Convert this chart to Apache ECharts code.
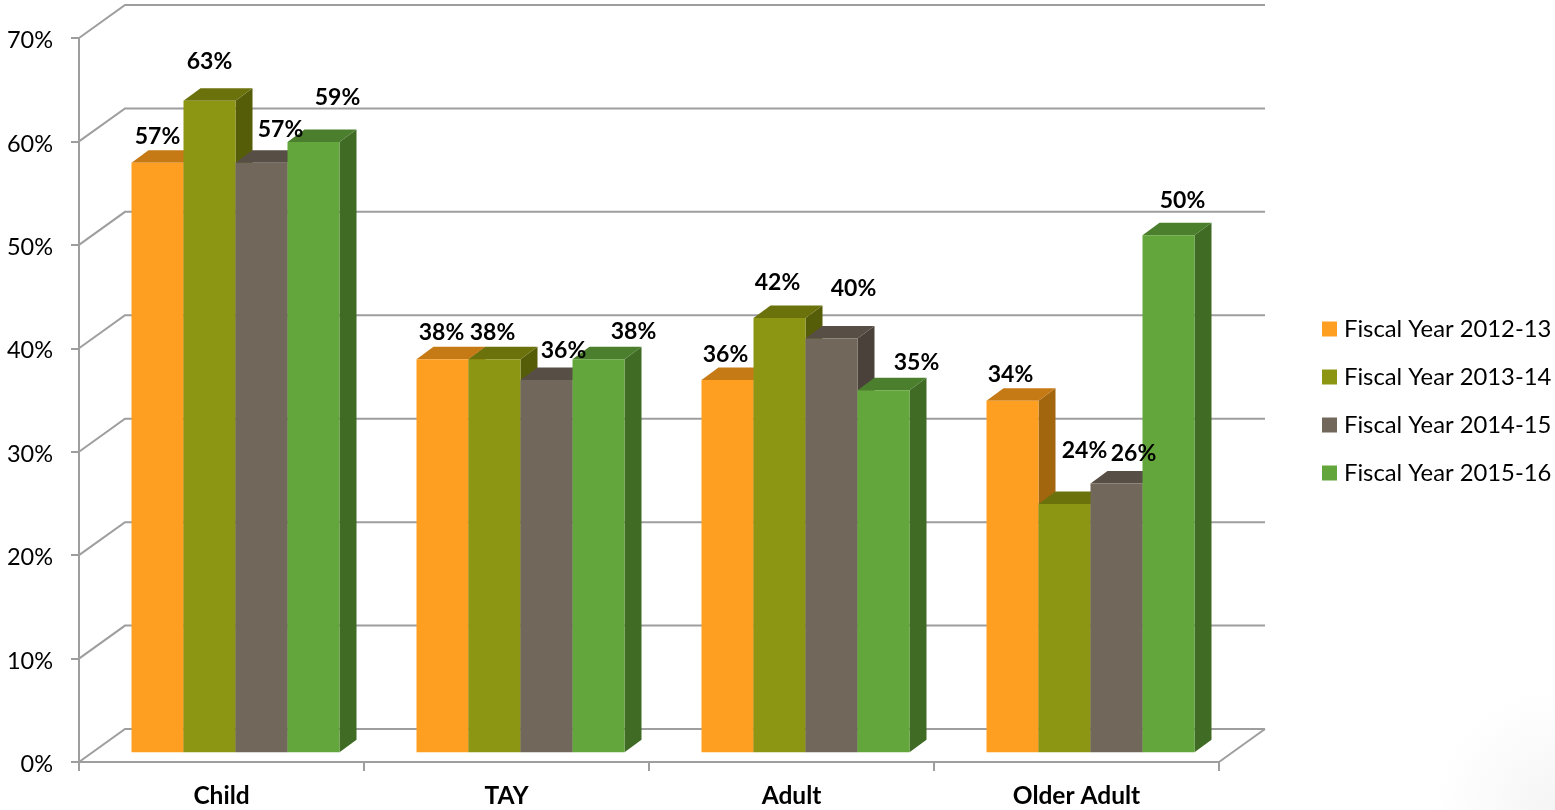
<!DOCTYPE html>
<html>
<head>
<meta charset="utf-8">
<style>html,body{margin:0;padding:0;background:#fff}#c{width:1555px;height:810px}</style>
<script src="https://cdn.jsdelivr.net/npm/echarts@6/dist/echarts.min.js"></script>
</head>
<body>
<div id="c"></div>
<script>
const categories = ['Child', 'TAY', 'Adult', 'Older Adult'];
const fy1213 = [57, 38, 36, 34];
const fy1314 = [63, 38, 42, 24];
const fy1415 = [57, 36, 40, 26];
const fy1516 = [59, 38, 35, 50];
const seriesNames = ['Fiscal Year 2012-13', 'Fiscal Year 2013-14', 'Fiscal Year 2014-15', 'Fiscal Year 2015-16'];
const valueTicks = [0, 10, 20, 30, 40, 50, 60, 70];

const allValues = [fy1213, fy1314, fy1415, fy1516];
const faces = [
  { front: '#FF9F21', top: '#C67A16', side: '#A2660F' },
  { front: '#8C9612', top: '#6B720C', side: '#565D08' },
  { front: '#72675B', top: '#574E45', side: '#4A423A' },
  { front: '#63A63B', top: '#4B7F2D', side: '#3F6B25' }
];
// hand-placed label nudges relative to the bar's top-centre, per series and category
const labelNudge = [
  [[0, -26.5], [-1, -26.5], [-2, -25.5], [-2, -26.5]],
  [[0, -39.5], [-2, -26.5], [-2, -35.5], [20, -53.5]],
  [[19, -33.5], [17, -29.5], [22, -50.5], [17, -29.5]],
  [[24, -44.5], [35, -27.5], [33, -27.5], [14, -34.5]]
];
const FONT = 'Lato';
const WALL = { dx: 46, dy: -33 };
const BAR = { w: 52, dx: 17, dy: -12.5, ox: 14, oy: -9.7 };
const LINE = '#9E9E9E';

function wallItem(params, api) {
  const v = api.value(0);
  const n = categories.length;
  const half = api.size([1, 0])[0] / 2;
  const a = api.coord([0, v]);
  const b = api.coord([n - 1, v]);
  const xl = a[0] - half, xr = b[0] + half, y = a[1];
  const children = [{
    type: 'polyline',
    shape: { points: [[xl, y], [xl + WALL.dx, y + WALL.dy], [xr + WALL.dx, y + WALL.dy]] },
    style: { fill: 'none', stroke: LINE, lineWidth: 2 },
    silent: true
  }];
  if (v === 0) {
    children.push({
      type: 'line',
      shape: { x1: xr, y1: y, x2: xr + WALL.dx, y2: y + WALL.dy },
      style: { stroke: LINE, lineWidth: 2 },
      silent: true
    });
  }
  return { type: 'group', children };
}

function barRenderer(s) {
  return function (params, api) {
    const c = api.value(0), v = api.value(1);
    const base = api.coord([c, 0]), topPt = api.coord([c, v]);
    const x0 = base[0] + BAR.ox - 2 * BAR.w + s * BAR.w;
    const x1 = x0 + BAR.w;
    const yb = base[1] + BAR.oy, yt = topPt[1] + BAR.oy;
    const f = faces[s];
    const nudge = labelNudge[s][c];
    const layer = 1 + s * 2;
    return {
      type: 'group',
      children: [
        { type: 'polygon', z2: layer, shape: { points: [[x1, yb], [x1 + BAR.dx, yb + BAR.dy], [x1 + BAR.dx, yt + BAR.dy], [x1, yt]] }, style: { fill: f.side } },
        { type: 'polygon', z2: layer, shape: { points: [[x0, yt], [x0 + BAR.dx, yt + BAR.dy], [x1 + BAR.dx, yt + BAR.dy], [x1, yt]] }, style: { fill: f.top } },
        { type: 'rect', z2: layer + 1, shape: { x: x0, y: yt, width: BAR.w, height: yb - yt }, style: { fill: f.front } },
        { type: 'text', z2: 100, x: x0 + BAR.w / 2 + nudge[0], y: yt + nudge[1],
          style: { text: v + '%', fill: '#000', font: 'bold 23px ' + FONT, align: 'center', verticalAlign: 'middle' } }
      ]
    };
  };
}

const series = [{
  type: 'custom',
  name: 'walls',
  z: 1,
  silent: true,
  clip: false,
  renderItem: wallItem,
  encode: { y: 0 },
  data: valueTicks.map(v => [v])
}].concat(allValues.map((vals, s) => ({
  type: 'custom',
  name: seriesNames[s],
  z: 3,
  clip: false,
  itemStyle: { color: faces[s].front },
  renderItem: barRenderer(s),
  encode: { x: 0, y: 1 },
  data: vals.map((v, c) => [c, v])
})));

const chart = echarts.init(document.getElementById('c'), null, { renderer: 'canvas' });
chart.setOption({
  animation: false,
  backgroundColor: '#fff',
  textStyle: { fontFamily: FONT },
  grid: { left: 79, right: 336, top: 38, bottom: 48, containLabel: false },
  xAxis: {
    type: 'category',
    data: categories,
    axisLine: { lineStyle: { color: LINE, width: 2 } },
    axisTick: { show: true, length: 9, lineStyle: { color: LINE, width: 2 } },
    axisLabel: { color: '#000', fontFamily: FONT, fontSize: 24.5, fontWeight: 'bold', margin: 22 },
    splitLine: { show: false }
  },
  yAxis: {
    type: 'value',
    min: 0,
    max: 70,
    interval: 10,
    axisLine: { show: true, lineStyle: { color: LINE, width: 2 } },
    axisTick: { show: true, length: 8, lineStyle: { color: LINE, width: 2 } },
    axisLabel: { color: '#000', fontFamily: FONT, fontSize: 23.5, margin: 26, verticalAlign: 'top', lineHeight: 5, formatter: '{value}%' },
    splitLine: { show: false }
  },
  legend: {
    left: 1322,
    top: 317,
    padding: 0,
    orient: 'vertical',
    icon: 'rect',
    itemWidth: 15,
    itemHeight: 15,
    itemGap: 24,
    selectedMode: false,
    data: seriesNames.map((n, i) => ({ name: n, itemStyle: { color: faces[i].front } })),
    textStyle: { color: '#000', fontFamily: FONT, fontSize: 23.8, padding: [0, 0, 0, 2] }
  },
  graphic: [{
    type: 'rect',
    silent: true,
    z: -10,
    shape: { x: 1435, y: 690, width: 120, height: 120 },
    style: {
      fill: new echarts.graphic.RadialGradient(1, 1, 1, [
        { offset: 0, color: '#F5F5F5' },
        { offset: 1, color: '#FFFFFF' }
      ])
    }
  }],
  series
});
</script>
</body>
</html>
